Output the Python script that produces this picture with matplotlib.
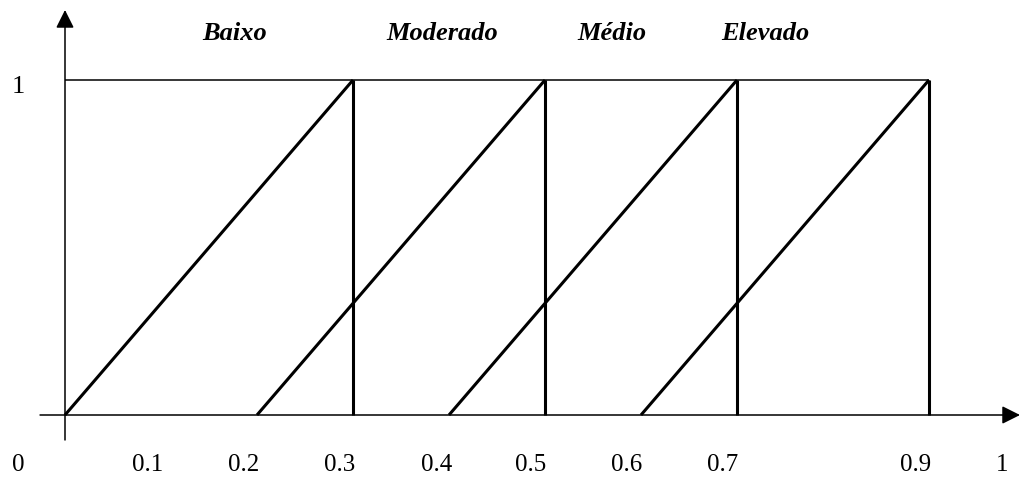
import numpy as np
import matplotlib.pyplot as plt

# Fuzzy sets: ramp from start up to peak, then drop back to 0
set_names = ['Baixo', 'Moderado', 'Médio', 'Elevado']
starts = [0.0, 0.2, 0.4, 0.6]
peaks = [0.3, 0.5, 0.7, 0.9]
name_x = [0.177, 0.393, 0.570, 0.730]

# x tick labels as they are written under the axis
tick_text = ['0', '0.1', '0.2', '0.3', '0.4', '0.5', '0.6', '0.7', '0.9', '1']
tick_x = [-0.049, 0.0865, 0.186, 0.286, 0.3875, 0.485, 0.585, 0.685, 0.886, 0.976]

plt.rcParams['font.family'] = ['Liberation Serif', 'DejaVu Serif']

fig = plt.figure(figsize=(10.21, 4.79), dpi=100)
ax = fig.add_axes([0, 0, 1, 1])
ax.set_xlim(-65 / 960, 956 / 960)
ax.set_ylim(-64 / 335, 415 / 335)
ax.axis('off')

# axes with arrows
arrow = dict(arrowstyle='-|>,head_length=1.1,head_width=0.55', lw=1.1,
             color='black', shrinkA=0, shrinkB=0, mutation_scale=10)
ax.annotate('', xy=(0.9948, 0), xytext=(-0.026, 0), arrowprops=arrow)
ax.annotate('', xy=(0, 1.209), xytext=(0, -0.0746), arrowprops=arrow)

# top line at membership 1
ax.plot([0, max(peaks)], [1, 1], color='black', lw=1.1, solid_capstyle='butt')

for s, p in zip(starts, peaks):
    ax.plot([s, p], [0, 1], color='black', lw=2.2, solid_capstyle='butt')
    ax.plot([p, p], [0, 1], color='black', lw=2.2, solid_capstyle='butt')

for name, x in zip(set_names, name_x):
    ax.text(x, 1.14, name, ha='center', va='center', fontsize=19,
            fontweight='bold', fontstyle='italic')

for t, x in zip(tick_text, tick_x):
    ax.text(x, -0.149, t, ha='center', va='center', fontsize=18)

ax.text(-0.049, 0.979, '1', ha='center', va='center', fontsize=19)

fig.savefig('out.png', dpi=100)
